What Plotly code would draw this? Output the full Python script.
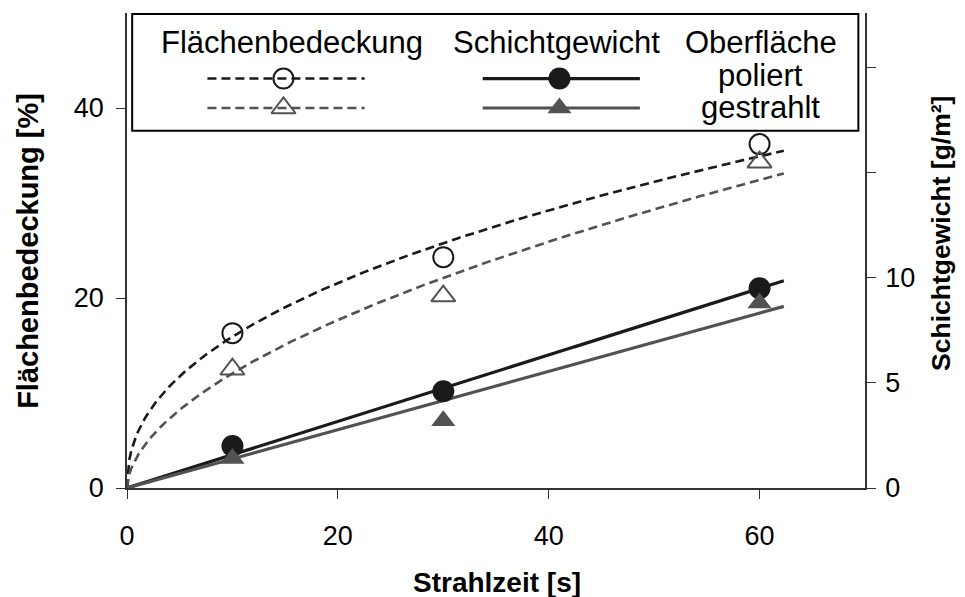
import numpy as np
import plotly.graph_objects as go

# ---- data ----
strahlzeit = [10, 30, 60]
fb_poliert = [16.3, 24.3, 36.2]      # Flächenbedeckung [%], poliert
fb_gestrahlt = [12.5, 20.2, 34.3]    # Flächenbedeckung [%], gestrahlt
sg_poliert = [2.0, 4.6, 9.5]         # Schichtgewicht [g/m²], poliert
sg_gestrahlt = [1.4, 3.2, 8.8]       # Schichtgewicht [g/m²], gestrahlt
fit_xmax = 62.3

x_ticks = [0, 20, 40, 60]
y1_ticks = [0, 20, 40]
y2_ticks = [0, 5, 10, 15, 20]
y2_labels = ["0", "5", "10", "", ""]

BLACK = "#1a1a1a"
GRAY = "#525252"
FONT = "Liberation Sans, Arial, sans-serif"

# ---- trend lines (fits computed from the data) ----
xa = np.array(strahlzeit, float)
xf = np.linspace(0, fit_xmax, 300)


def power_fit(y):
    b, ln_a = np.polyfit(np.log(xa), np.log(np.array(y, float)), 1)
    return np.exp(ln_a) * xf ** b


def origin_fit(y):
    y = np.array(y, float)
    k = (xa * y).sum() / (xa * xa).sum()
    return k * xf


fig = go.Figure()

# fits
fig.add_trace(go.Scatter(x=xf, y=power_fit(fb_poliert), mode="lines",
                         line=dict(color=BLACK, width=2.6, dash="9px,5px"), yaxis="y"))
fig.add_trace(go.Scatter(x=xf, y=power_fit(fb_gestrahlt), mode="lines",
                         line=dict(color=GRAY, width=2.6, dash="9px,5px"), yaxis="y"))
fig.add_trace(go.Scatter(x=xf, y=origin_fit(sg_poliert), mode="lines",
                         line=dict(color=BLACK, width=3.2), yaxis="y2"))
fig.add_trace(go.Scatter(x=xf, y=origin_fit(sg_gestrahlt), mode="lines",
                         line=dict(color=GRAY, width=3.2), yaxis="y2"))

# markers
fig.add_trace(go.Scatter(x=strahlzeit, y=fb_poliert, mode="markers", yaxis="y",
                         marker=dict(symbol="circle-open", size=20, color=BLACK, line=dict(width=2))))
fig.add_trace(go.Scatter(x=strahlzeit, y=fb_gestrahlt, mode="markers", yaxis="y",
                         marker=dict(symbol="triangle-up-open", size=21, color=GRAY, line=dict(width=2))))
fig.add_trace(go.Scatter(x=strahlzeit, y=sg_poliert, mode="markers", yaxis="y2",
                         marker=dict(symbol="circle", size=22, color=BLACK)))
fig.add_trace(go.Scatter(x=strahlzeit, y=sg_gestrahlt, mode="markers", yaxis="y2",
                         marker=dict(symbol="triangle-up", size=21, color=GRAY)))

# ---- legend drawn inside a box on an overlay axis (0..1 over the plot area) ----
lg_dash = [0.109, 0.322]
lg_solid = [0.482, 0.695]
lg_rows = [0.862, 0.800]
lg_mark_dash = 0.212
lg_mark_solid = 0.586

for row, col, mk_open, mk_fill in [
    (lg_rows[0], BLACK, "circle-open", "circle"),
    (lg_rows[1], GRAY, "triangle-up-open", "triangle-up"),
]:
    fig.add_trace(go.Scatter(x=lg_dash, y=[row, row], mode="lines", xaxis="x3", yaxis="y3",
                             line=dict(color=col, width=2.6, dash="9px,5px")))
    fig.add_trace(go.Scatter(x=[lg_mark_dash], y=[row], mode="markers", xaxis="x3", yaxis="y3",
                             marker=dict(symbol=mk_open, size=20 if "circle" in mk_open else 21,
                                         color=col, line=dict(width=2))))
    fig.add_trace(go.Scatter(x=lg_solid, y=[row, row], mode="lines", xaxis="x3", yaxis="y3",
                             line=dict(color=col, width=3.2)))
    fig.add_trace(go.Scatter(x=[lg_mark_solid], y=[row], mode="markers", xaxis="x3", yaxis="y3",
                             marker=dict(symbol=mk_fill, size=22 if mk_fill == "circle" else 21, color=col)))

legend_texts = [
    ("Flächenbedeckung", 0.223, 0.937),
    ("Schichtgewicht", 0.582, 0.937),
    ("Oberfläche", 0.859, 0.937),
    ("poliert", 0.859, 0.868),
    ("gestrahlt", 0.859, 0.802),
]
annotations = [
    dict(text=t, x=x, y=y, xref="x3", yref="y3", showarrow=False,
         xanchor="center", yanchor="middle", font=dict(size=31, color="black", family=FONT))
    for t, x, y in legend_texts
]

# axis titles
annotations += [
    dict(text="<b>Strahlzeit [s]</b>", xref="paper", yref="paper", x=0.502, y=-0.198,
         xanchor="center", yanchor="middle", showarrow=False,
         font=dict(size=28, color="black", family=FONT)),
    dict(text="<b>Flächenbedeckung [%]</b>", xref="paper", yref="paper", x=-0.135, y=0.5,
         textangle=-90, xanchor="center", yanchor="middle", showarrow=False,
         font=dict(size=29, color="black", family=FONT)),
    dict(text="<b>Schichtgewicht [g/m²]</b>", xref="paper", yref="paper", x=1.103, y=0.535,
         textangle=-90, xanchor="center", yanchor="middle", showarrow=False,
         font=dict(size=26.5, color="black", family=FONT)),
]

shapes = [
    dict(type="rect", xref="x3", yref="y3", x0=0.007, x1=0.991, y0=0.752, y1=0.998,
         line=dict(color="black", width=2), fillcolor="white", layer="below"),
]

axis_line = dict(showline=True, linecolor="#333333", linewidth=1.6, ticks="outside",
                 tickcolor="#333333", tickwidth=1.3, showgrid=False, zeroline=False,
                 tickfont=dict(size=27, color="black", family=FONT))

fig.update_layout(
    width=965, height=597,
    margin=dict(l=127, r=100, t=13, b=109),
    paper_bgcolor="white", plot_bgcolor="white",
    showlegend=False,
    font=dict(family=FONT, color="black"),
    xaxis=dict(range=[0, 70], tickvals=x_ticks, ticklen=9, ticklabelstandoff=14, **axis_line),
    yaxis=dict(range=[0, 50], tickvals=y1_ticks, ticklen=9, ticklabelstandoff=7, **axis_line),
    yaxis2=dict(range=[0, 22.6], tickvals=y2_ticks, ticktext=y2_labels, overlaying="y",
                side="right", ticklen=9, ticklabelstandoff=4, **axis_line),
    xaxis3=dict(range=[0, 1], overlaying="x", visible=False, fixedrange=True),
    yaxis3=dict(range=[0, 1], overlaying="y", visible=False, fixedrange=True),
    annotations=annotations,
    shapes=shapes,
)

fig.write_html("out.html")
